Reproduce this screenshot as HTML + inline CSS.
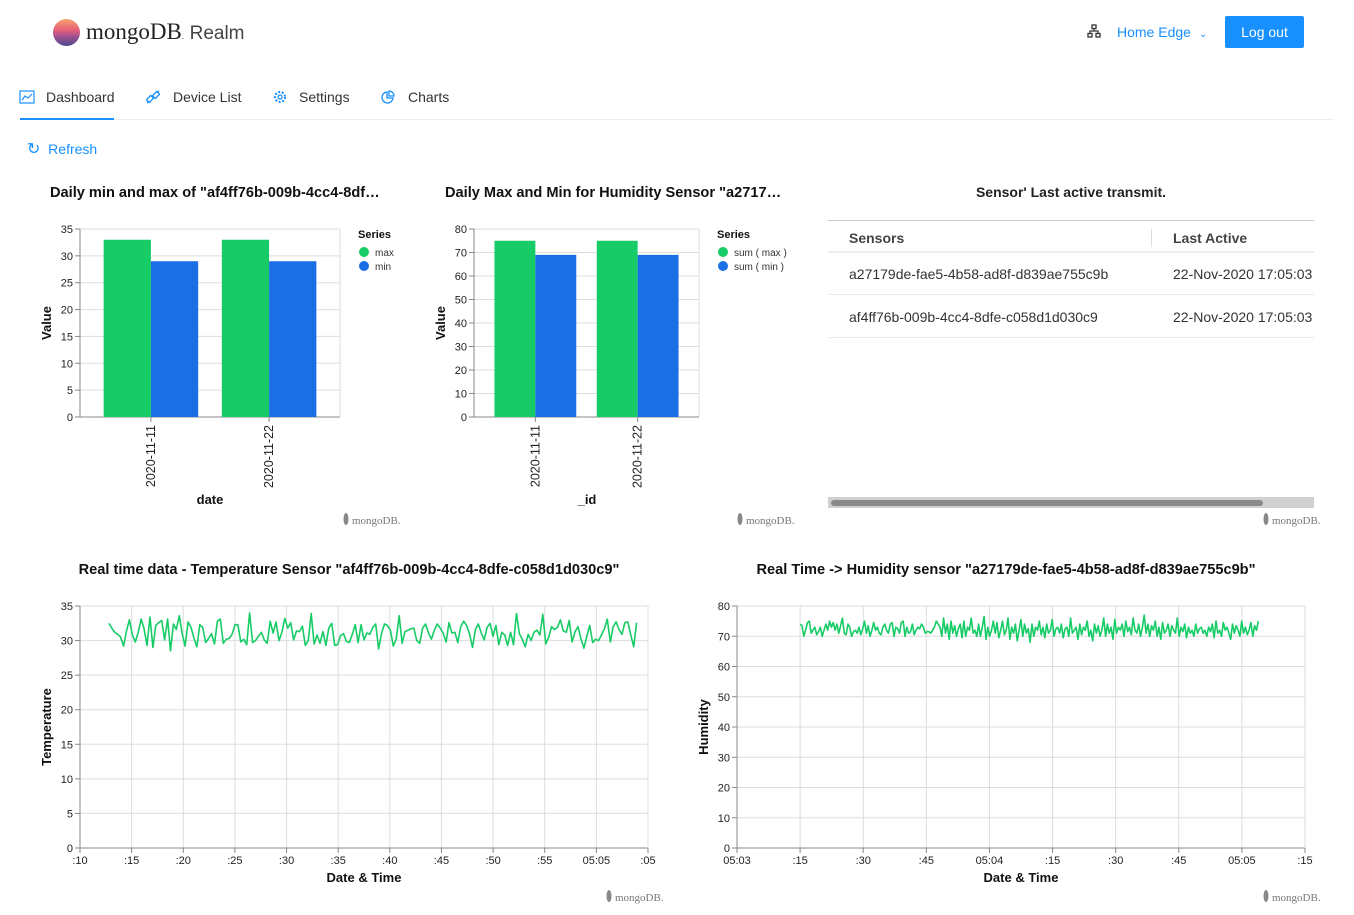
<!DOCTYPE html>
<html><head><meta charset="utf-8">
<style>
body{margin:0;width:1354px;height:915px;background:#fff;font-family:"Liberation Sans",sans-serif;position:relative;overflow:hidden;color:#222}
.a{position:absolute;white-space:nowrap}
.nav{font-size:14px;color:#333;top:89px}
</style></head><body>
<div class="a" style="left:53px;top:19px;width:27px;height:27px;border-radius:50%;background:linear-gradient(180deg,#f5a36c 0%,#e8617a 40%,#a0508f 65%,#4b4a8f 100%)"></div>
<div class="a" style="left:86px;top:19px;font-family:'Liberation Serif',serif;font-size:23px;color:#222">mongoDB<span style="font-size:8px">.</span> <span style="font-family:'Liberation Sans',sans-serif;font-size:19px;color:#444">Realm</span></div>
<div class="a" style="left:1087px;top:24px;font-size:14px">
<svg width="14" height="14"><g fill="none" stroke="#333" stroke-width="1.3"><rect x="5" y="1" width="4" height="3.5"/><rect x="1" y="9.5" width="4" height="3.5"/><rect x="9" y="9.5" width="4" height="3.5"/><path d="M7 4.5V7M3 9.5V7H11V9.5"/></g></svg></div>
<div class="a" style="left:1117px;top:24px;font-size:14px;color:#1890ff">Home Edge <span style="font-size:10px;margin-left:4px">&#8964;</span></div>
<div class="a" style="left:1225px;top:16px;width:79px;height:32px;background:#1890ff;border-radius:2px;color:#fff;font-size:14px;line-height:32px;text-align:center">Log out</div>

<svg class="a" style="left:19px;top:90px" width="16" height="14"><rect x="1" y="1" width="14" height="12" fill="none" stroke="#1890ff" stroke-width="1.2"/><path d="M3 10L6 6L9 8L13 4" fill="none" stroke="#1890ff" stroke-width="1.2"/></svg>
<div class="a nav" style="left:46px">Dashboard</div>
<svg class="a" style="left:146px;top:90px" width="14" height="14"><g fill="none" stroke="#1890ff" stroke-width="1.3"><rect x="2" y="6" width="4" height="6" transform="rotate(45 4 9)"/><rect x="8" y="2" width="4" height="6" transform="rotate(45 10 5)"/><path d="M1 13L3 11M11 3L13 1"/></g></svg>
<div class="a nav" style="left:173px">Device List</div>
<svg class="a" style="left:273px;top:90px" width="14" height="14"><circle cx="7" cy="7" r="5" fill="none" stroke="#1890ff" stroke-width="2" stroke-dasharray="2 1.6"/><circle cx="7" cy="7" r="2" fill="none" stroke="#1890ff" stroke-width="1.2"/></svg>
<div class="a nav" style="left:299px">Settings</div>
<svg class="a" style="left:381px;top:90px" width="14" height="14"><path d="M6 2A5.5 5.5 0 1 0 12 8H6Z" fill="none" stroke="#1890ff" stroke-width="1.3"/><path d="M8 1V6H13A5 5 0 0 0 8 1Z" fill="none" stroke="#1890ff" stroke-width="1.3"/></svg>
<div class="a nav" style="left:408px">Charts</div>
<div class="a" style="left:20px;top:119px;width:1314px;height:1px;background:#eee"></div>
<div class="a" style="left:20px;top:118px;width:94px;height:2px;background:#1890ff"></div>
<div class="a" style="left:27px;top:139px;font-size:14px;color:#1890ff"><span style="font-size:16px">&#8635;</span>&nbsp; Refresh</div>

<!-- table -->
<div class="a" style="left:828px;width:486px;text-align:center;top:184px;font-size:14px;font-weight:bold">Sensor' Last active transmit.</div>
<div class="a" style="left:828px;top:220px;width:486px;height:118px;overflow:hidden;border-top:1px solid #ccc;font-size:14px;color:#333">
<div style="position:absolute;top:0;left:0;width:486px;height:30px;border-bottom:2px solid #eee"></div>
<div class="a" style="left:21px;top:9px;font-weight:bold;color:#444">Sensors</div>
<div class="a" style="left:323px;top:8px;width:1px;height:18px;background:#ddd"></div>
<div class="a" style="left:345px;top:9px;font-weight:bold;color:#444">Last Active</div>
<div class="a" style="left:21px;top:45px">a27179de-fae5-4b58-ad8f-d839ae755c9b</div>
<div class="a" style="left:345px;top:45px">22-Nov-2020 17:05:03</div>
<div class="a" style="left:0;top:73px;width:486px;height:1px;background:#e8e8e8"></div>
<div class="a" style="left:21px;top:88px">af4ff76b-009b-4cc4-8dfe-c058d1d030c9</div>
<div class="a" style="left:345px;top:88px">22-Nov-2020 17:05:03</div>
<div class="a" style="left:0;top:116px;width:486px;height:1px;background:#e8e8e8"></div>
</div>
<div class="a" style="left:828px;top:497px;width:486px;height:11px;background:#d0d0d0"><div style="position:absolute;left:3px;top:3px;width:432px;height:6px;border-radius:3px;background:#8a8a8a"></div></div>

<svg id="c" class="a" style="left:0;top:0" width="1354" height="915"></svg>

<script>
const bar1Categories=["2020-11-11","2020-11-22"];
const bar1Max=[33,33];
const bar1Min=[29,29];
const bar1Ticks=[0,5,10,15,20,25,30,35];
const bar2Categories=["2020-11-11","2020-11-22"];
const bar2Max=[75,75];
const bar2Min=[69,69];
const bar2Ticks=[0,10,20,30,40,50,60,70,80];
const tempTicks=[0,5,10,15,20,25,30,35];
const tempXLabels=[":10",":15",":20",":25",":30",":35",":40",":45",":50",":55","05:05",":05"];
const tempValues=[32.5,31.8,31.2,30.9,30.5,29.2,31.4,33.0,30.8,29.8,31.2,33.1,31.7,29.3,33.4,29.0,32.2,32.6,32.9,30.1,33.1,28.5,32.4,31.6,33.6,31.0,29.2,32.7,31.9,30.4,29.1,32.3,31.9,29.7,30.3,31.0,29.5,32.8,33.1,29.6,30.2,30.3,30.9,32.3,32.3,29.8,30.2,29.4,34.0,29.7,30.0,30.6,31.2,30.1,29.6,32.8,31.1,32.7,30.0,31.2,33.2,31.8,32.6,30.1,31.4,31.3,32.1,29.3,30.0,33.9,29.5,30.8,29.6,31.3,29.3,31.8,32.5,29.3,29.4,30.7,31.0,29.9,29.7,30.9,32.3,29.7,32.3,30.1,31.1,30.9,31.9,32.4,28.8,31.1,32.4,32.2,31.5,29.2,30.2,33.6,29.6,31.3,31.5,31.7,31.8,30.0,29.6,31.8,32.4,31.1,30.2,31.5,32.4,31.8,31.1,29.8,32.6,31.1,31.2,29.7,32.0,32.8,32.2,31.0,29.0,31.6,32.4,31.1,30.1,31.9,32.5,30.6,32.2,29.4,31.2,30.8,29.3,31.2,29.4,33.9,31.0,30.2,29.1,30.9,30.0,31.2,31.5,30.8,33.8,29.5,30.5,32.0,31.6,31.9,33.0,31.4,31.2,32.9,29.8,31.3,32.0,30.3,28.9,30.6,32.2,29.7,30.2,30.0,30.8,31.7,33.1,29.8,32.0,32.7,31.6,30.9,32.6,32.7,30.8,29.1,32.6];
const tempStart=12.8, tempEnd=63.9;
const humTicks=[0,10,20,30,40,50,60,70,80];
const humXLabels=["05:03",":15",":30",":45","05:04",":15",":30",":45","05:05",":15"];
const humValues=[74,73.5,70,72,74.5,75,71,72,73,70.5,71.5,73,70,72,74,72,75,73,74.5,72,74,71,73.5,76,71,70.5,74,73,70,71.5,72,71,73,70.5,72.5,75,71,73.5,70,72,74.5,72,73,71,70.5,73,74,72,71,74,74.5,70,73,72.5,71,74.5,75,70,73,71,71.5,74,70.5,72,73,72.5,74,73,71,71.5,71.5,71,72,73,75,74,73,70,76,71,74,69,75,71,73.5,70,72.5,74,69.5,75,70,73,72,76,71,72,70,74,70,73,76.5,69,73,70,72,75,71,74.5,69.5,72,75,70.5,72,76,69,73,71,74,68.5,72,75.5,70,74,71,72.5,68,74,70,73,72,75,70.5,73,69.5,74,71,72,75.5,70,72.5,73,71,74,69.5,72.5,73,70,76,71,72,73,69,74,70.5,73,72,75,70,72,68.5,74,71,73.5,70,72,76,70,74,71,73,69,75.5,71,73,72,74,70,75,71.5,73,70.5,76,72,71,74,70,73,77,71,74,70,73.5,72,75,70,73,69,74.5,71,72,74,70,73.5,72,71,76,70,73,71.5,74,69.5,73,71,72,70,74,71,72.5,73,71,72,70,73,71.5,74,69.5,75,71,72,70,74.5,72,73,71,69,74,71,73.5,72,70,75,71,73,70.5,72,74.5,70,73.5,72,75];
const humStart=1.0, humEnd=8.26;

const svg=document.getElementById('c');const NS='http://www.w3.org/2000/svg';
function el(tag,attrs,parent,txt){const e=document.createElementNS(NS,tag);for(const k in attrs)e.setAttribute(k,attrs[k]);if(txt!==undefined)e.textContent=txt;(parent||svg).appendChild(e);return e;}
function lin(d0,d1,r0,r1){return v=>r0+(v-d0)/(d1-d0)*(r1-r0);}
const TF='Liberation Sans, sans-serif';

function title(x,y,t,anchor){const e=el('text',{x:x,y:y,'font-family':TF,'font-size':14.6,'font-weight':'bold','text-anchor':anchor||'start',fill:'#111'},svg,t);

}
function wm(x,y){const g=el('g',{});


el('ellipse',{cx:x+3,cy:y-4,rx:2.5,ry:6,fill:'#888'},g);el('text',{x:x+9,y:y+1,'font-family':'Liberation Serif, serif','font-size':11,fill:'#777'},g,'mongoDB.');}

function yAxis(x0,x1,y,ticks,maxV,y0,y1){
 ticks.forEach(t=>{const yy=y(t);
  const gl=el('line',{x1:x0,x2:x1,y1:yy,y2:yy,stroke:'#ddd'});
  
  
  el('line',{x1:x0-5,x2:x0,y1:yy,y2:yy,stroke:'#888'});
  const tl=el('text',{x:x0-7,y:yy+4,'text-anchor':'end','font-family':TF,'font-size':11,fill:'#222'},svg,t);
  
  });
 el('line',{x1:x1,x2:x1,y1:y0,y2:y1,stroke:'#ddd'});
 el('line',{x1:x0,x2:x0,y1:y0,y2:y1,stroke:'#888'});
 el('line',{x1:x0,x2:x1,y1:y1,y2:y1,stroke:'#888'});
}
function axisTitleY(x,y,t){const e=el('text',{x:x,y:y,transform:`rotate(-90 ${x} ${y})`,'text-anchor':'middle','font-family':TF,'font-size':13,'font-weight':'bold',fill:'#111'},svg,t);

}
function axisTitleX(x,y,t){const e=el('text',{x:x,y:y,'text-anchor':'middle','font-family':TF,'font-size':13,'font-weight':'bold',fill:'#111'},svg,t);

}

function barChart(cats,maxv,minv,ticks,x0,x1,y0,y1,dmax){
 const y=lin(0,dmax,y1,y0);
 yAxis(x0,x1,y,ticks,dmax,y0,y1);
 const step=(x1-x0)/(cats.length+0.2);const off=(x1-x0-step*cats.length)/2;
 cats.forEach((c,i)=>{const cx=x0+off+step*(i+0.5);const w=step*0.4;
  const b1=el('rect',{x:cx-w,y:y(maxv[i]),width:w,height:y1-y(maxv[i]),fill:'#17cc66'});
  
  
  const b2=el('rect',{x:cx,y:y(minv[i]),width:w,height:y1-y(minv[i]),fill:'#1b6fe4'});
  
  
  el('line',{x1:cx,x2:cx,y1:y1,y2:y1+5,stroke:'#888'});
  const tl=el('text',{x:cx+4,y:y1+8,transform:`rotate(-90 ${cx+4} ${y1+8})`,'text-anchor':'end','font-family':TF,'font-size':12.5,fill:'#222'},svg,c);
  
  });
}
function legend(x,y,labels){
 const g=el('g',{});
 
 
 el('text',{x:x,y:y+4,'font-family':TF,'font-size':11,'font-weight':'bold',fill:'#111'},g,'Series');
 const cols=['#17cc66','#1b6fe4'];
 labels.forEach((l,i)=>{el('circle',{cx:x+6,cy:y+18+i*14,r:5,fill:cols[i]},g);el('text',{x:x+17,y:y+22+i*14,'font-family':TF,'font-size':10,fill:'#333'},g,l);});
}
function lineChart(vals,ticks,dmax,labels,x0,x1,y0,y1,ds,de,step,tStart,tEnd){
 const y=lin(0,dmax,y1,y0);const x=lin(ds,de,x0,x1);
 labels.forEach((l,i)=>{const xx=x(ds+i*step);
  const gl=el('line',{x1:xx,x2:xx,y1:y0,y2:y1,stroke:'#ddd'});
  
  
  el('line',{x1:xx,x2:xx,y1:y1,y2:y1+5,stroke:'#888'});
  const tl=el('text',{x:xx,y:y1+16,'text-anchor':'middle','font-family':TF,'font-size':11,fill:'#222'},svg,l);
  
  });
 yAxis(x0,x1,y,ticks,dmax,y0,y1);
 el('line',{x1:x1,x2:x1,y1:y0,y2:y1,stroke:'#ddd'});
 const n=vals.length;
 const pts=vals.map((v,i)=>x(tStart+(tEnd-tStart)*i/(n-1)).toFixed(1)+','+y(v).toFixed(1)).join(' ');
 const p=el('polyline',{points:pts,fill:'none',stroke:'#17cc66','stroke-width':1.6,'stroke-linejoin':'round'});
 
 
}

title(50,197,'Daily min and max of "af4ff76b-009b-4cc4-8df…');
barChart(bar1Categories,bar1Max,bar1Min,bar1Ticks,80,340,229,417,35);
axisTitleY(51,323,'Value');axisTitleX(210,504,'date');
legend(358,234,['max','min']);wm(343,523);

title(445,197,'Daily Max and Min for Humidity Sensor "a2717…');
barChart(bar2Categories,bar2Max,bar2Min,bar2Ticks,474,699,229,417,80);
axisTitleY(445,323,'Value');axisTitleX(587,504,'_id');
legend(717,234,['sum ( max )','sum ( min )']);wm(737,523);wm(1263,523);

title(349,574,'Real time data - Temperature Sensor "af4ff76b-009b-4cc4-8dfe-c058d1d030c9"','middle');
lineChart(tempValues,tempTicks,35,tempXLabels,80,648,606,848,10,65,5,tempStart,tempEnd);
axisTitleY(51,727,'Temperature');axisTitleX(364,882,'Date & Time');wm(606,900);

title(1006,574,'Real Time -> Humidity sensor "a27179de-fae5-4b58-ad8f-d839ae755c9b"','middle');
lineChart(humValues,humTicks,80,humXLabels,737,1305,606,848,0,9,1,humStart,humEnd);
axisTitleY(708,727,'Humidity');axisTitleX(1021,882,'Date & Time');wm(1263,900);
</script>
</body></html>
